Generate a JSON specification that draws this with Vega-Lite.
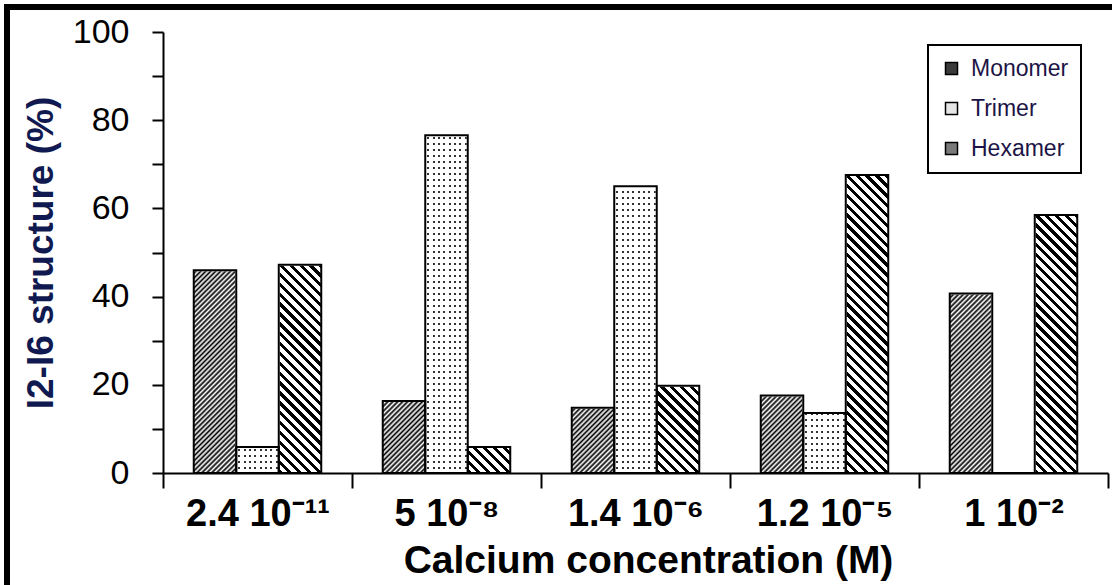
{
"$schema": "https://vega.github.io/schema/vega-lite/v6.json",
"width": 1105, "height": 578,
"autosize": {"type": "none"},
"padding": {"left": 7, "top": 7, "right": 0, "bottom": 0},
"background": "white",
"config": {
  "font": "Liberation Sans",
  "view": {"stroke": "black", "strokeWidth": 6, "strokeDash": [1105, 1683, 578, 30], "strokeCap": "square", "fill": null},
  "legend": {"strokeWidth": 2}
},
"data": {"values": [
  {"conc": "2.4 10⁻¹¹", "series": "Monomer", "value": 46},
  {"conc": "2.4 10⁻¹¹", "series": "Trimer", "value": 5.9},
  {"conc": "2.4 10⁻¹¹", "series": "Hexamer", "value": 47.2},
  {"conc": "5 10⁻⁸", "series": "Monomer", "value": 16.3},
  {"conc": "5 10⁻⁸", "series": "Trimer", "value": 76.6},
  {"conc": "5 10⁻⁸", "series": "Hexamer", "value": 5.9},
  {"conc": "1.4 10⁻⁶", "series": "Monomer", "value": 14.8},
  {"conc": "1.4 10⁻⁶", "series": "Trimer", "value": 65},
  {"conc": "1.4 10⁻⁶", "series": "Hexamer", "value": 19.8},
  {"conc": "1.2 10⁻⁵", "series": "Monomer", "value": 17.6},
  {"conc": "1.2 10⁻⁵", "series": "Trimer", "value": 13.6},
  {"conc": "1.2 10⁻⁵", "series": "Hexamer", "value": 67.6},
  {"conc": "1 10⁻²", "series": "Monomer", "value": 40.7},
  {"conc": "1 10⁻²", "series": "Trimer", "value": 0},
  {"conc": "1 10⁻²", "series": "Hexamer", "value": 58.5}
]},
"encoding": {
  "x": {"field": "conc", "type": "nominal",
    "scale": {"domain": ["2.4 10⁻¹¹", "5 10⁻⁸", "1.4 10⁻⁶", "1.2 10⁻⁵", "1 10⁻²"], "range": [156, 1101], "paddingInner": 0, "paddingOuter": 0},
    "axis": {"orient": "bottom", "offset": -112, "zindex": 2, "grid": false,
      "domainColor": "black", "domainWidth": 2, "tickBand": "extent", "tickColor": "black", "tickWidth": 2, "tickSize": 15,
      "labelAngle": 0, "labelFontSize": 38, "labelFontWeight": "bold", "labelColor": "black", "labelPadding": 7,
      "labelOverlap": false, "labelBound": false, "labelFlush": false, "labelLimit": 400,
      "title": "Calcium concentration (M)", "titleFontSize": 39, "titleFontWeight": "bold", "titleColor": "black", "titlePadding": 8, "titleX": 641}},
  "xOffset": {"field": "series", "type": "nominal", "scale": {"domain": ["Monomer", "Trimer", "Hexamer"], "paddingInner": 0, "paddingOuter": 0.7235}}
},
"layer": [
  {
    "mark": {"type": "bar", "stroke": "black", "strokeWidth": 1},
    "encoding": {
      "y": {"field": "value", "type": "quantitative",
        "scale": {"domain": [0, 100], "range": [466, 25], "nice": false, "zero": true},
        "axis": {"orient": "left", "offset": -156, "zindex": 2, "grid": false, "values": [0, 10, 20, 30, 40, 50, 60, 70, 80, 90, 100],
          "labelExpr": "datum.value % 20 === 0 ? datum.label : ''",
          "domainColor": "black", "domainWidth": 2, "tickColor": "black", "tickWidth": 2, "tickSize": 11,
          "labelFontSize": 34, "labelColor": "black", "labelPadding": 23,
          "title": "I2-I6 structure (%)", "titleFontSize": 37, "titleFontWeight": "bold", "titleColor": "#111a50", "titlePadding": 12}},
      "fill": {"field": "series", "type": "nominal",
        "scale": {"domain": ["Monomer", "Trimer", "Hexamer"], "range": ["#3a3a3a", "#e6e6e6", "#7a7a7a"]},
        "legend": {"orient": "none", "legendX": 921, "legendY": 38, "title": null, "symbolType": "square", "symbolSize": 144,
          "symbolStrokeColor": "black", "symbolStrokeWidth": 1.5, "labelFontSize": 23, "labelColor": "#1c1446", "labelOffset": 8,
          "padding": 12, "rowPadding": 16, "strokeColor": "black", "fillColor": "white"}}
    }
  },
  {
    "transform": [{"filter": "datum.series === 'Monomer'"}],
    "mark": {"type": "bar", "fill": {"gradient": "linear", "x1": 0, "y1": 0, "x2": 0.133, "y2": 1.1044, "stops": [
      {"offset":0,"color":"#000"},{"offset":0.00625,"color":"#fff"},{"offset":0.0125,"color":"#000"},{"offset":0.01875,"color":"#fff"},{"offset":0.025,"color":"#000"},{"offset":0.03125,"color":"#fff"},{"offset":0.0375,"color":"#000"},{"offset":0.04375,"color":"#fff"},{"offset":0.05,"color":"#000"},{"offset":0.05625,"color":"#fff"},{"offset":0.0625,"color":"#000"},{"offset":0.06875,"color":"#fff"},{"offset":0.075,"color":"#000"},{"offset":0.08125,"color":"#fff"},{"offset":0.0875,"color":"#000"},{"offset":0.09375,"color":"#fff"},
      {"offset":0.1,"color":"#000"},{"offset":0.10625,"color":"#fff"},{"offset":0.1125,"color":"#000"},{"offset":0.11875,"color":"#fff"},{"offset":0.125,"color":"#000"},{"offset":0.13125,"color":"#fff"},{"offset":0.1375,"color":"#000"},{"offset":0.14375,"color":"#fff"},{"offset":0.15,"color":"#000"},{"offset":0.15625,"color":"#fff"},{"offset":0.1625,"color":"#000"},{"offset":0.16875,"color":"#fff"},{"offset":0.175,"color":"#000"},{"offset":0.18125,"color":"#fff"},{"offset":0.1875,"color":"#000"},{"offset":0.19375,"color":"#fff"},
      {"offset":0.2,"color":"#000"},{"offset":0.20625,"color":"#fff"},{"offset":0.2125,"color":"#000"},{"offset":0.21875,"color":"#fff"},{"offset":0.225,"color":"#000"},{"offset":0.23125,"color":"#fff"},{"offset":0.2375,"color":"#000"},{"offset":0.24375,"color":"#fff"},{"offset":0.25,"color":"#000"},{"offset":0.25625,"color":"#fff"},{"offset":0.2625,"color":"#000"},{"offset":0.26875,"color":"#fff"},{"offset":0.275,"color":"#000"},{"offset":0.28125,"color":"#fff"},{"offset":0.2875,"color":"#000"},{"offset":0.29375,"color":"#fff"},
      {"offset":0.3,"color":"#000"},{"offset":0.30625,"color":"#fff"},{"offset":0.3125,"color":"#000"},{"offset":0.31875,"color":"#fff"},{"offset":0.325,"color":"#000"},{"offset":0.33125,"color":"#fff"},{"offset":0.3375,"color":"#000"},{"offset":0.34375,"color":"#fff"},{"offset":0.35,"color":"#000"},{"offset":0.35625,"color":"#fff"},{"offset":0.3625,"color":"#000"},{"offset":0.36875,"color":"#fff"},{"offset":0.375,"color":"#000"},{"offset":0.38125,"color":"#fff"},{"offset":0.3875,"color":"#000"},{"offset":0.39375,"color":"#fff"},
      {"offset":0.4,"color":"#000"},{"offset":0.40625,"color":"#fff"},{"offset":0.4125,"color":"#000"},{"offset":0.41875,"color":"#fff"},{"offset":0.425,"color":"#000"},{"offset":0.43125,"color":"#fff"},{"offset":0.4375,"color":"#000"},{"offset":0.44375,"color":"#fff"},{"offset":0.45,"color":"#000"},{"offset":0.45625,"color":"#fff"},{"offset":0.4625,"color":"#000"},{"offset":0.46875,"color":"#fff"},{"offset":0.475,"color":"#000"},{"offset":0.48125,"color":"#fff"},{"offset":0.4875,"color":"#000"},{"offset":0.49375,"color":"#fff"},
      {"offset":0.5,"color":"#000"},{"offset":0.50625,"color":"#fff"},{"offset":0.5125,"color":"#000"},{"offset":0.51875,"color":"#fff"},{"offset":0.525,"color":"#000"},{"offset":0.53125,"color":"#fff"},{"offset":0.5375,"color":"#000"},{"offset":0.54375,"color":"#fff"},{"offset":0.55,"color":"#000"},{"offset":0.55625,"color":"#fff"},{"offset":0.5625,"color":"#000"},{"offset":0.56875,"color":"#fff"},{"offset":0.575,"color":"#000"},{"offset":0.58125,"color":"#fff"},{"offset":0.5875,"color":"#000"},{"offset":0.59375,"color":"#fff"},
      {"offset":0.6,"color":"#000"},{"offset":0.60625,"color":"#fff"},{"offset":0.6125,"color":"#000"},{"offset":0.61875,"color":"#fff"},{"offset":0.625,"color":"#000"},{"offset":0.63125,"color":"#fff"},{"offset":0.6375,"color":"#000"},{"offset":0.64375,"color":"#fff"},{"offset":0.65,"color":"#000"},{"offset":0.65625,"color":"#fff"},{"offset":0.6625,"color":"#000"},{"offset":0.66875,"color":"#fff"},{"offset":0.675,"color":"#000"},{"offset":0.68125,"color":"#fff"},{"offset":0.6875,"color":"#000"},{"offset":0.69375,"color":"#fff"},
      {"offset":0.7,"color":"#000"},{"offset":0.70625,"color":"#fff"},{"offset":0.7125,"color":"#000"},{"offset":0.71875,"color":"#fff"},{"offset":0.725,"color":"#000"},{"offset":0.73125,"color":"#fff"},{"offset":0.7375,"color":"#000"},{"offset":0.74375,"color":"#fff"},{"offset":0.75,"color":"#000"},{"offset":0.75625,"color":"#fff"},{"offset":0.7625,"color":"#000"},{"offset":0.76875,"color":"#fff"},{"offset":0.775,"color":"#000"},{"offset":0.78125,"color":"#fff"},{"offset":0.7875,"color":"#000"},{"offset":0.79375,"color":"#fff"},
      {"offset":0.8,"color":"#000"},{"offset":0.80625,"color":"#fff"},{"offset":0.8125,"color":"#000"},{"offset":0.81875,"color":"#fff"},{"offset":0.825,"color":"#000"},{"offset":0.83125,"color":"#fff"},{"offset":0.8375,"color":"#000"},{"offset":0.84375,"color":"#fff"},{"offset":0.85,"color":"#000"},{"offset":0.85625,"color":"#fff"},{"offset":0.8625,"color":"#000"},{"offset":0.86875,"color":"#fff"},{"offset":0.875,"color":"#000"},{"offset":0.88125,"color":"#fff"},{"offset":0.8875,"color":"#000"},{"offset":0.89375,"color":"#fff"},
      {"offset":0.9,"color":"#000"},{"offset":0.90625,"color":"#fff"},{"offset":0.9125,"color":"#000"},{"offset":0.91875,"color":"#fff"},{"offset":0.925,"color":"#000"},{"offset":0.93125,"color":"#fff"},{"offset":0.9375,"color":"#000"},{"offset":0.94375,"color":"#fff"},{"offset":0.95,"color":"#000"},{"offset":0.95625,"color":"#fff"},{"offset":0.9625,"color":"#000"},{"offset":0.96875,"color":"#fff"},{"offset":0.975,"color":"#000"},{"offset":0.98125,"color":"#fff"},{"offset":0.9875,"color":"#000"},{"offset":0.99375,"color":"#fff"},
      {"offset":1,"color":"#000"}
    ]}},
    "encoding": {
      "y": {"datum": 80, "type": "quantitative", "scale": {"domain": [0, 100], "range": [466, 25], "nice": false, "zero": true}, "axis": {"title": "I2-I6 structure (%)"}},
      "y2": {"datum": 0}
    }
  },
  {
    "transform": [{"filter": "datum.series === 'Hexamer'"}],
    "mark": {"type": "bar", "fill": {"gradient": "linear", "x1": 0, "y1": 1, "x2": 0.133, "y2": -0.1044, "stops": [
      {"offset":0,"color":"#000"},{"offset":0.011,"color":"#000"},{"offset":0.011,"color":"#fff"},{"offset":0.025,"color":"#fff"},{"offset":0.025,"color":"#000"},{"offset":0.036,"color":"#000"},{"offset":0.036,"color":"#fff"},{"offset":0.05,"color":"#fff"},{"offset":0.05,"color":"#000"},{"offset":0.061,"color":"#000"},{"offset":0.061,"color":"#fff"},{"offset":0.075,"color":"#fff"},{"offset":0.075,"color":"#000"},{"offset":0.086,"color":"#000"},{"offset":0.086,"color":"#fff"},{"offset":0.1,"color":"#fff"},
      {"offset":0.1,"color":"#000"},{"offset":0.111,"color":"#000"},{"offset":0.111,"color":"#fff"},{"offset":0.125,"color":"#fff"},{"offset":0.125,"color":"#000"},{"offset":0.136,"color":"#000"},{"offset":0.136,"color":"#fff"},{"offset":0.15,"color":"#fff"},{"offset":0.15,"color":"#000"},{"offset":0.161,"color":"#000"},{"offset":0.161,"color":"#fff"},{"offset":0.175,"color":"#fff"},{"offset":0.175,"color":"#000"},{"offset":0.186,"color":"#000"},{"offset":0.186,"color":"#fff"},{"offset":0.2,"color":"#fff"},
      {"offset":0.2,"color":"#000"},{"offset":0.211,"color":"#000"},{"offset":0.211,"color":"#fff"},{"offset":0.225,"color":"#fff"},{"offset":0.225,"color":"#000"},{"offset":0.236,"color":"#000"},{"offset":0.236,"color":"#fff"},{"offset":0.25,"color":"#fff"},{"offset":0.25,"color":"#000"},{"offset":0.261,"color":"#000"},{"offset":0.261,"color":"#fff"},{"offset":0.275,"color":"#fff"},{"offset":0.275,"color":"#000"},{"offset":0.286,"color":"#000"},{"offset":0.286,"color":"#fff"},{"offset":0.3,"color":"#fff"},
      {"offset":0.3,"color":"#000"},{"offset":0.311,"color":"#000"},{"offset":0.311,"color":"#fff"},{"offset":0.325,"color":"#fff"},{"offset":0.325,"color":"#000"},{"offset":0.336,"color":"#000"},{"offset":0.336,"color":"#fff"},{"offset":0.35,"color":"#fff"},{"offset":0.35,"color":"#000"},{"offset":0.361,"color":"#000"},{"offset":0.361,"color":"#fff"},{"offset":0.375,"color":"#fff"},{"offset":0.375,"color":"#000"},{"offset":0.386,"color":"#000"},{"offset":0.386,"color":"#fff"},{"offset":0.4,"color":"#fff"},
      {"offset":0.4,"color":"#000"},{"offset":0.411,"color":"#000"},{"offset":0.411,"color":"#fff"},{"offset":0.425,"color":"#fff"},{"offset":0.425,"color":"#000"},{"offset":0.436,"color":"#000"},{"offset":0.436,"color":"#fff"},{"offset":0.45,"color":"#fff"},{"offset":0.45,"color":"#000"},{"offset":0.461,"color":"#000"},{"offset":0.461,"color":"#fff"},{"offset":0.475,"color":"#fff"},{"offset":0.475,"color":"#000"},{"offset":0.486,"color":"#000"},{"offset":0.486,"color":"#fff"},{"offset":0.5,"color":"#fff"},
      {"offset":0.5,"color":"#000"},{"offset":0.511,"color":"#000"},{"offset":0.511,"color":"#fff"},{"offset":0.525,"color":"#fff"},{"offset":0.525,"color":"#000"},{"offset":0.536,"color":"#000"},{"offset":0.536,"color":"#fff"},{"offset":0.55,"color":"#fff"},{"offset":0.55,"color":"#000"},{"offset":0.561,"color":"#000"},{"offset":0.561,"color":"#fff"},{"offset":0.575,"color":"#fff"},{"offset":0.575,"color":"#000"},{"offset":0.586,"color":"#000"},{"offset":0.586,"color":"#fff"},{"offset":0.6,"color":"#fff"},
      {"offset":0.6,"color":"#000"},{"offset":0.611,"color":"#000"},{"offset":0.611,"color":"#fff"},{"offset":0.625,"color":"#fff"},{"offset":0.625,"color":"#000"},{"offset":0.636,"color":"#000"},{"offset":0.636,"color":"#fff"},{"offset":0.65,"color":"#fff"},{"offset":0.65,"color":"#000"},{"offset":0.661,"color":"#000"},{"offset":0.661,"color":"#fff"},{"offset":0.675,"color":"#fff"},{"offset":0.675,"color":"#000"},{"offset":0.686,"color":"#000"},{"offset":0.686,"color":"#fff"},{"offset":0.7,"color":"#fff"},
      {"offset":0.7,"color":"#000"},{"offset":0.711,"color":"#000"},{"offset":0.711,"color":"#fff"},{"offset":0.725,"color":"#fff"},{"offset":0.725,"color":"#000"},{"offset":0.736,"color":"#000"},{"offset":0.736,"color":"#fff"},{"offset":0.75,"color":"#fff"},{"offset":0.75,"color":"#000"},{"offset":0.761,"color":"#000"},{"offset":0.761,"color":"#fff"},{"offset":0.775,"color":"#fff"},{"offset":0.775,"color":"#000"},{"offset":0.786,"color":"#000"},{"offset":0.786,"color":"#fff"},{"offset":0.8,"color":"#fff"},
      {"offset":0.8,"color":"#000"},{"offset":0.811,"color":"#000"},{"offset":0.811,"color":"#fff"},{"offset":0.825,"color":"#fff"},{"offset":0.825,"color":"#000"},{"offset":0.836,"color":"#000"},{"offset":0.836,"color":"#fff"},{"offset":0.85,"color":"#fff"},{"offset":0.85,"color":"#000"},{"offset":0.861,"color":"#000"},{"offset":0.861,"color":"#fff"},{"offset":0.875,"color":"#fff"},{"offset":0.875,"color":"#000"},{"offset":0.886,"color":"#000"},{"offset":0.886,"color":"#fff"},{"offset":0.9,"color":"#fff"},
      {"offset":0.9,"color":"#000"},{"offset":0.911,"color":"#000"},{"offset":0.911,"color":"#fff"},{"offset":0.925,"color":"#fff"},{"offset":0.925,"color":"#000"},{"offset":0.936,"color":"#000"},{"offset":0.936,"color":"#fff"},{"offset":0.95,"color":"#fff"},{"offset":0.95,"color":"#000"},{"offset":0.961,"color":"#000"},{"offset":0.961,"color":"#fff"},{"offset":0.975,"color":"#fff"},{"offset":0.975,"color":"#000"},{"offset":0.986,"color":"#000"},{"offset":0.986,"color":"#fff"},{"offset":1,"color":"#fff"}
    ]}},
    "encoding": {
      "y": {"datum": 80, "type": "quantitative", "scale": {"domain": [0, 100], "range": [466, 25], "nice": false, "zero": true}, "axis": {"title": "I2-I6 structure (%)"}},
      "y2": {"datum": 0}
    }
  },
  {
    "transform": [{"filter": "datum.series === 'Trimer'"}],
    "mark": {"type": "bar", "fill": {"gradient": "linear", "x1": 0, "y1": 0, "x2": 1, "y2": 0, "stops": [
      {"offset":0,"color":"#fff"},
      {"offset":0.05,"color":"#fff"},{"offset":0.05,"color":"#333"},{"offset":0.097,"color":"#333"},{"offset":0.097,"color":"#fff"},
      {"offset":0.175,"color":"#fff"},{"offset":0.175,"color":"#333"},{"offset":0.222,"color":"#333"},{"offset":0.222,"color":"#fff"},
      {"offset":0.3,"color":"#fff"},{"offset":0.3,"color":"#333"},{"offset":0.347,"color":"#333"},{"offset":0.347,"color":"#fff"},
      {"offset":0.425,"color":"#fff"},{"offset":0.425,"color":"#333"},{"offset":0.472,"color":"#333"},{"offset":0.472,"color":"#fff"},
      {"offset":0.55,"color":"#fff"},{"offset":0.55,"color":"#333"},{"offset":0.597,"color":"#333"},{"offset":0.597,"color":"#fff"},
      {"offset":0.675,"color":"#fff"},{"offset":0.675,"color":"#333"},{"offset":0.722,"color":"#333"},{"offset":0.722,"color":"#fff"},
      {"offset":0.8,"color":"#fff"},{"offset":0.8,"color":"#333"},{"offset":0.847,"color":"#333"},{"offset":0.847,"color":"#fff"},
      {"offset":0.925,"color":"#fff"},{"offset":0.925,"color":"#333"},{"offset":0.972,"color":"#333"},{"offset":0.972,"color":"#fff"},
      {"offset":1,"color":"#fff"}
    ]}},
    "encoding": {
      "y": {"datum": 80, "type": "quantitative", "scale": {"domain": [0, 100], "range": [466, 25], "nice": false, "zero": true}, "axis": {"title": "I2-I6 structure (%)"}},
      "y2": {"datum": 0}
    }
  },
  {
    "transform": [{"filter": "datum.series === 'Trimer'"}],
    "mark": {"type": "rule", "stroke": "white", "strokeWidth": 43, "strokeDash": [4, 2]},
    "encoding": {
      "y": {"datum": 0, "type": "quantitative", "scale": {"domain": [0, 100], "range": [466, 25], "nice": false, "zero": true}, "axis": {"title": "I2-I6 structure (%)"}},
      "y2": {"datum": 80}
    }
  },
  {
    "mark": {"type": "bar", "fill": "white", "stroke": "white", "strokeWidth": 2},
    "encoding": {
      "y": {"field": "value", "type": "quantitative", "scale": {"domain": [0, 100], "range": [466, 25], "nice": false, "zero": true}, "axis": {"title": "I2-I6 structure (%)"}},
      "y2": {"datum": 80}
    }
  },
  {
    "mark": {"type": "bar", "fill": "transparent", "stroke": "black", "strokeWidth": 2},
    "encoding": {
      "y": {"field": "value", "type": "quantitative", "scale": {"domain": [0, 100], "range": [466, 25], "nice": false, "zero": true}, "axis": {"title": "I2-I6 structure (%)"}}
    }
  }
]
}
